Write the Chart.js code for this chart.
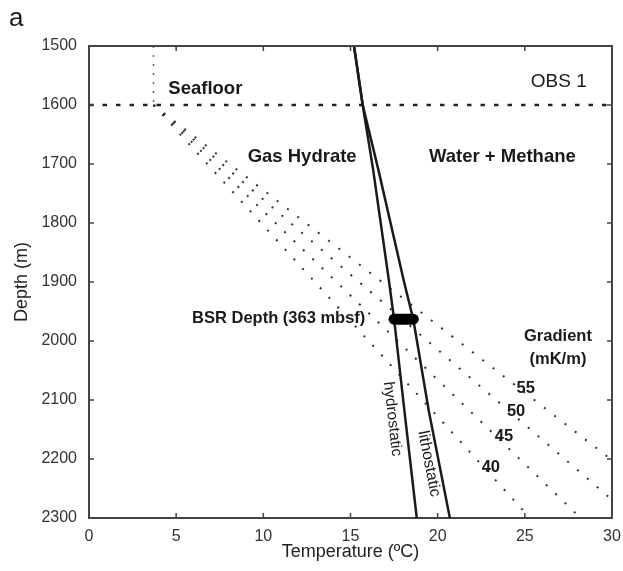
<!DOCTYPE html>
<html>
<head>
<meta charset="utf-8">
<script src="https://cdn.jsdelivr.net/npm/chart.js@4.4.1/dist/chart.umd.min.js"></script>
<style>
  body { margin: 0; background: #fff; }
  canvas { display: block; }
</style>
</head>
<body>
<canvas id="chart" width="623" height="571"></canvas>
<script>
// axis ranges and tick steps
const tempTicks = [0, 5, 10, 15, 20, 25, 30];
const depthTicks = [1500, 1600, 1700, 1800, 1900, 2000, 2100, 2200, 2300];

// seafloor
const seafloorDepth = 1600;
const seafloorTemp = 3.7;

// hydrate stability curves (temp in degC, depth in m)
const curveDepth = [1500, 1600, 1710, 1897, 1963, 2120, 2300];
const hydroTemp = [15.2, 15.7, 16.3, 17.2, 17.5, 18.1, 18.8];
const lithoTemp = [15.2, 15.7, 16.6, 18.05, 18.6, 19.5, 20.7];

// BSR observed at 363 mbsf
const bsrDepth = 1963;
const bsrTemp = [17.5, 18.6];

// geothermal gradients, drawn from the seafloor point to where they leave the plot
const gradientRates = [40, 45, 50, 55];
const gradientEndTemp = [25.3, 28.2, 30, 30];
const gradientEndDepth = [2300, 2300, 2269, 2202];

const FONT = "'Liberation Sans', Arial, Helvetica, sans-serif";
const INK = '#1a1a1a';

const toPoints = (xs, ys) => xs.map((x, i) => ({ x: x, y: ys[i] }));

const datasets = [];

datasets.push({
    label: 'BSR',
    data: bsrTemp.map(t => ({ x: t, y: bsrDepth })),
    borderColor: '#000',
    borderWidth: 11,
    borderCapStyle: 'round'
});

datasets.push({
    label: 'hydrostatic',
    data: toPoints(hydroTemp, curveDepth),
    borderColor: INK,
    borderWidth: 2.5
});

datasets.push({
    label: 'lithostatic',
    data: toPoints(lithoTemp, curveDepth),
    borderColor: INK,
    borderWidth: 2.5
});

datasets.push({
    label: 'seafloor',
    data: [{ x: 0, y: seafloorDepth }, { x: 30, y: seafloorDepth }],
    borderColor: '#222',
    borderWidth: 2.5,
    borderDash: [4.5, 9]
});

datasets.push({
    label: 'water column',
    data: [{ x: seafloorTemp, y: 1500 }, { x: seafloorTemp, y: seafloorDepth }],
    borderColor: '#666',
    borderWidth: 1.5,
    borderDash: [2, 7]
});

gradientRates.forEach((g, i) => {
    datasets.push({
        label: g + ' mK/m',
        data: [
            { x: seafloorTemp, y: seafloorDepth },
            { x: gradientEndTemp[i], y: gradientEndDepth[i] }
        ],
        borderColor: '#333',
        borderWidth: 2,
        borderDash: [2, 11]
    });
});

// text placed in data coordinates
const notes = [
    { text: 'Seafloor', x: 4.55, y: 1573, font: 'bold 18.5px', align: 'left' },
    { text: 'Gas Hydrate', x: 9.1, y: 1688, font: 'bold 18.5px', align: 'left' },
    { text: 'Water + Methane', x: 19.5, y: 1688, font: 'bold 18.5px', align: 'left' },
    { text: 'OBS 1', x: 28.55, y: 1561, font: '19px', align: 'right' },
    { text: 'BSR Depth (363 mbsf)', x: 15.85, y: 1961, font: 'bold 16.5px', align: 'right' },
    { text: 'Gradient', x: 26.9, y: 1993, font: 'bold 16.5px', align: 'center' },
    { text: '(mK/m)', x: 26.9, y: 2032, font: 'bold 16.5px', align: 'center' },
    { text: '55', x: 25.05, y: 2080, font: 'bold 16.5px', align: 'center' },
    { text: '50', x: 24.5, y: 2119, font: 'bold 16.5px', align: 'center' },
    { text: '45', x: 23.8, y: 2161, font: 'bold 16.5px', align: 'center' },
    { text: '40', x: 23.05, y: 2214, font: 'bold 16.5px', align: 'center' },
    { text: 'hydrostatic', x: 17.4, y: 2132, font: '15.5px', align: 'center', angle: 83.4 },
    { text: 'lithostatic', x: 19.5, y: 2208, font: '16px', align: 'center', angle: 79 }
];

// frame on top/right plus short inward ticks on all four sides
const framePlugin = {
    id: 'frame',
    afterDraw(chart) {
        const { ctx, chartArea: a, scales: { x, y } } = chart;
        ctx.save();
        ctx.strokeStyle = '#444';
        ctx.lineWidth = 2;
        ctx.beginPath();
        ctx.moveTo(a.left, a.top);
        ctx.lineTo(a.right, a.top);
        ctx.lineTo(a.right, a.bottom);
        ctx.stroke();

        ctx.lineWidth = 1.5;
        ctx.beginPath();
        tempTicks.slice(1, -1).forEach(t => {
            const px = x.getPixelForValue(t);
            ctx.moveTo(px, a.bottom);
            ctx.lineTo(px, a.bottom - 5);
            ctx.moveTo(px, a.top);
            ctx.lineTo(px, a.top + 5);
        });
        depthTicks.slice(1, -1).forEach(d => {
            const py = y.getPixelForValue(d);
            ctx.moveTo(a.left, py);
            ctx.lineTo(a.left + 5, py);
            ctx.moveTo(a.right, py);
            ctx.lineTo(a.right - 5, py);
        });
        ctx.stroke();

        // annotations
        ctx.fillStyle = INK;
        ctx.textBaseline = 'middle';
        notes.forEach(n => {
            ctx.save();
            ctx.font = n.font + ' ' + FONT;
            ctx.textAlign = n.align;
            ctx.translate(x.getPixelForValue(n.x), y.getPixelForValue(n.y));
            if (n.angle) ctx.rotate(n.angle * Math.PI / 180);
            ctx.fillText(n.text, 0, 0);
            ctx.restore();
        });

        // panel letter
        ctx.font = '26px ' + FONT;
        ctx.textAlign = 'left';
        ctx.fillText('a', 9, 19);
        ctx.restore();
    }
};

new Chart(document.getElementById('chart'), {
    type: 'scatter',
    data: { datasets: datasets },
    options: {
        responsive: false,
        animation: false,
        showLine: true,
        elements: { point: { radius: 0, hoverRadius: 0 }, line: { tension: 0 } },
        layout: { padding: { top: 46, right: 11, left: 0, bottom: 0 } },
        plugins: { legend: { display: false }, tooltip: { enabled: false } },
        scales: {
            x: {
                type: 'linear',
                position: 'bottom',
                min: 0,
                max: 30,
                afterFit: s => { s.height = 53; s.paddingLeft = 0; s.paddingRight = 0; },
                afterBuildTicks: s => { s.ticks = tempTicks.map(v => ({ value: v })); },
                grid: { display: false, drawTicks: false },
                border: { display: true, color: '#444', width: 2 },
                ticks: {
                    color: '#333', padding: 9, font: { family: FONT, size: 16 },
                    callback: v => String(v)
                },
                title: {
                    display: true,
                    text: 'Temperature (ºC)',
                    color: '#222',
                    font: { family: FONT, size: 18 },
                    padding: { top: 0, bottom: 8 }
                }
            },
            y: {
                type: 'linear',
                position: 'left',
                reverse: true,
                min: 1500,
                max: 2300,
                afterFit: s => { s.width = 89; s.paddingTop = 0; s.paddingBottom = 0; },
                afterBuildTicks: s => { s.ticks = depthTicks.map(v => ({ value: v })); },
                grid: { display: false, drawTicks: false },
                border: { display: true, color: '#444', width: 2 },
                ticks: {
                    color: '#333', padding: 12, font: { family: FONT, size: 16 },
                    callback: v => String(v)
                },
                title: {
                    display: true,
                    text: 'Depth (m)',
                    color: '#222',
                    font: { family: FONT, size: 18 },
                    padding: { top: 11, bottom: 0 }
                }
            }
        }
    },
    plugins: [framePlugin]
});
</script>
</body>
</html>
